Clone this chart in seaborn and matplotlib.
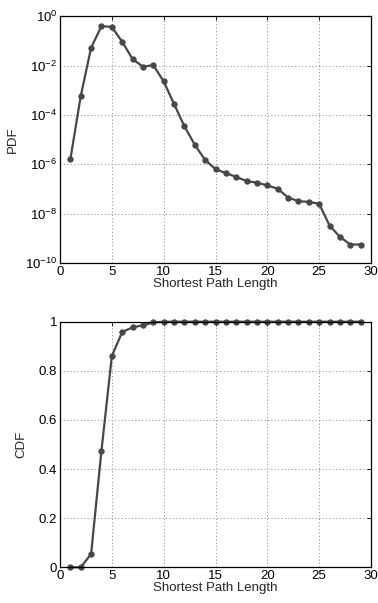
import numpy as np
import pandas as pd
import matplotlib
matplotlib.use('Agg')
import matplotlib.pyplot as plt
import seaborn as sns

# Data
path_len = list(range(1, 30))
pdf_vals = [1.6e-6, 5.8e-4, 0.053, 0.40, 0.37, 0.093, 0.0185, 0.0091, 0.0105,
            0.0023, 2.8e-4, 3.5e-5, 6.2e-6, 1.5e-6, 6.4e-7, 4.4e-7, 3.1e-7,
            2.1e-7, 1.8e-7, 1.4e-7, 1.02e-7, 4.5e-8, 3.2e-8, 3.0e-8, 2.5e-8,
            3.3e-9, 1.15e-9, 5.6e-10, 5.6e-10]
cdf_vals = [0.0, 0.0, 0.054, 0.475, 0.86, 0.958, 0.977, 0.985, 0.997] + [1.0] * 20

df = pd.DataFrame({'len': path_len, 'pdf': pdf_vals, 'cdf': cdf_vals})

sns.set_style('white')
plt.rcParams['font.family'] = ['Liberation Sans', 'DejaVu Sans']
plt.rcParams['mathtext.fontset'] = 'custom'
plt.rcParams['mathtext.rm'] = 'Liberation Sans'
plt.rcParams['mathtext.it'] = 'Liberation Sans'

fs = 9.5

fig = plt.figure(figsize=(3.78, 6.03), dpi=100)
W, H = 378, 603
ax1 = fig.add_axes([60 / W, 1 - 263 / H, 311 / W, 246.7 / H])
ax2 = fig.add_axes([60 / W, 1 - 567.3 / H, 311 / W, 245.6 / H])

line_kw = dict(color='#474747', linewidth=1.6, marker='o', markersize=3.8,
               markeredgecolor='#474747', markerfacecolor='#474747', clip_on=False)

sns.lineplot(data=df, x='len', y='pdf', ax=ax1, **line_kw)
ax1.set_yscale('log')
ax1.set_ylim(1e-10, 1)
ax1.set_yticks([1e-10, 1e-8, 1e-6, 1e-4, 1e-2, 1])
ax1.minorticks_off()
ax1.set_ylabel('PDF', fontsize=fs, labelpad=4)

sns.lineplot(data=df, x='len', y='cdf', ax=ax2, **line_kw)
ax2.set_ylim(0, 1)
ax2.set_yticks([0, 0.2, 0.4, 0.6, 0.8, 1])
ax2.set_yticklabels(['0', '0.2', '0.4', '0.6', '0.8', '1'])
ax2.set_ylabel('CDF', fontsize=fs, labelpad=8)

for ax in (ax1, ax2):
    ax.set_xlim(0, 30)
    ax.set_xticks([0, 5, 10, 15, 20, 25, 30])
    ax.set_xlabel('Shortest Path Length', fontsize=fs, labelpad=0)
    ax.grid(True, linestyle=(0, (1, 2.5)), color='#8a8a8a', linewidth=0.7)
    ax.tick_params(direction='in', length=3, width=0.6, labelsize=fs,
                   top=True, right=True, colors='black', pad=2)
    for s in ax.spines.values():
        s.set_color('black')
        s.set_linewidth(0.9)
        s.set_zorder(3)

fig.savefig('out.png', dpi=100)
